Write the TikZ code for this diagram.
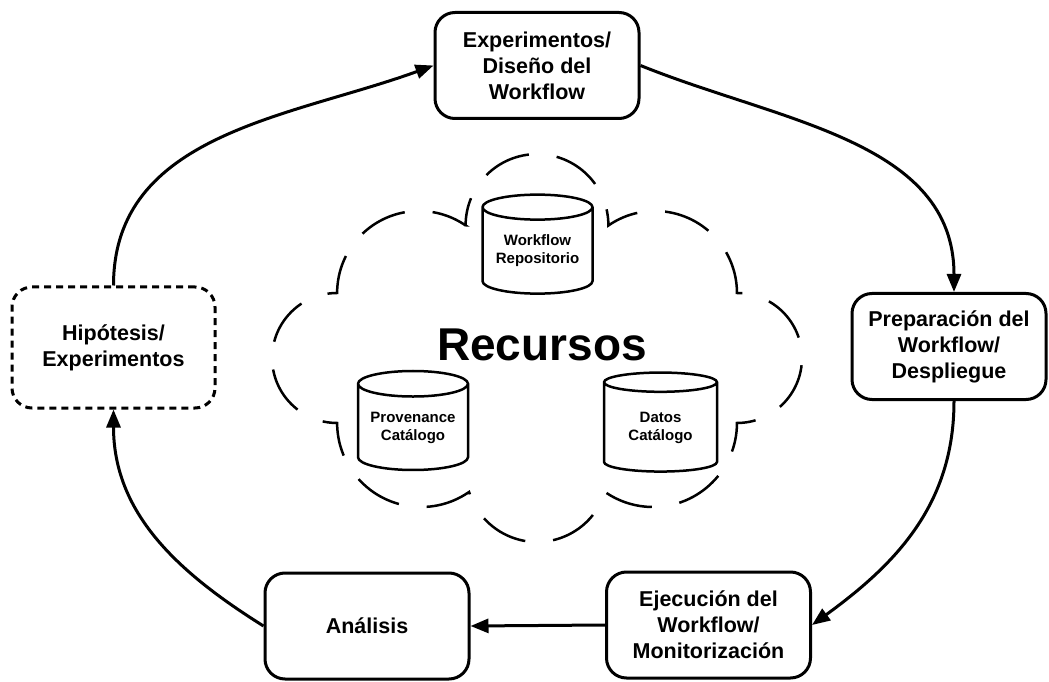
\documentclass[tikz,border=0pt]{standalone}
\usepackage{fontspec}
\setmainfont{Liberation Sans}
\usetikzlibrary{shapes.geometric,arrows.meta}

\begin{document}
\begin{tikzpicture}[x=1pt,y=1pt,
  stage/.style={draw,line width=3pt,rounded corners=20pt,align=center,
    minimum width=\boxW,minimum height=\boxH,inner sep=0pt,
    font=\bfseries\fontsize{21.5}{26}\selectfont},
  store/.style={draw,line width=2.5pt,cylinder,shape border rotate=90,aspect=0.3,
    minimum width=110pt,minimum height=99pt,align=center,inner sep=0pt,
    font=\bfseries\fontsize{15}{18}\selectfont},
  cloudline/.style={line width=2.5pt,dash pattern=on 48pt off 28pt,dash phase=20pt},
  flow/.style={line width=3pt,-{Triangle[length=18pt,width=14pt]}}]
% Parameters
\def\boxW{204pt};
\def\boxH{106pt};

\useasboundingbox (0,0) rectangle (1049,681);

% Resources cloud, eight puffs
\draw[cloudline] (465.6,455.5) arc[start angle=180,end angle=0,radius=71.4]
  arc[start angle=124.6,end angle=0,radius=82]
  arc[start angle=90,end angle=-90,radius=65]
  arc[start angle=0,end angle=-124.8,radius=84]
  arc[start angle=-17.3,end angle=-162.7,radius=71.2]
  arc[start angle=-55.2,end angle=-180,radius=84]
  arc[start angle=-90,end angle=-270,radius=65]
  arc[start angle=180,end angle=55.4,radius=82] -- cycle;

\node[font=\bfseries\fontsize{46}{50}\selectfont] (res) at (542,336) {Recursos};
\node[store] (repo) at (537.5,430) {Workflow\\Repositorio};
\node[store] (prov) at (413,253.5) {Provenance\\Catálogo};
\node[store,minimum width=113pt] (datos) at (660.5,253.5) {Datos\\Catálogo};

% Cycle stages
\node[stage] (expd) at (537,615.5) {Experimentos/\\Diseño del\\Workflow};
\node[stage,minimum width=194pt] (prep) at (949,334.5) {Preparación del\\Workflow/\\Despliegue};
\node[stage] (ejec) at (708.5,56) {Ejecución del\\Workflow/\\Monitorización};
\node[stage] (anal) at (367,55) {Análisis};
\node[stage,minimum width=203pt,minimum height=121pt,dash pattern=on 7pt off 5pt] (hip) at (113.5,333.5) {Hipótesis/\\Experimentos};

\draw[flow] (hip.north) to[out=90,in=200] (expd.west);
\draw[flow] (expd.east) to[out=-22,in=90] ([xshift=5pt]prep.north);
\draw[flow] ([xshift=5pt]prep.south) to[out=-90,in=36] (ejec.east);
\draw[flow] (ejec.west) -- (anal.east);
\draw[flow] (anal.west) to[out=148,in=-90] (hip.south);
\end{tikzpicture}
\end{document}
